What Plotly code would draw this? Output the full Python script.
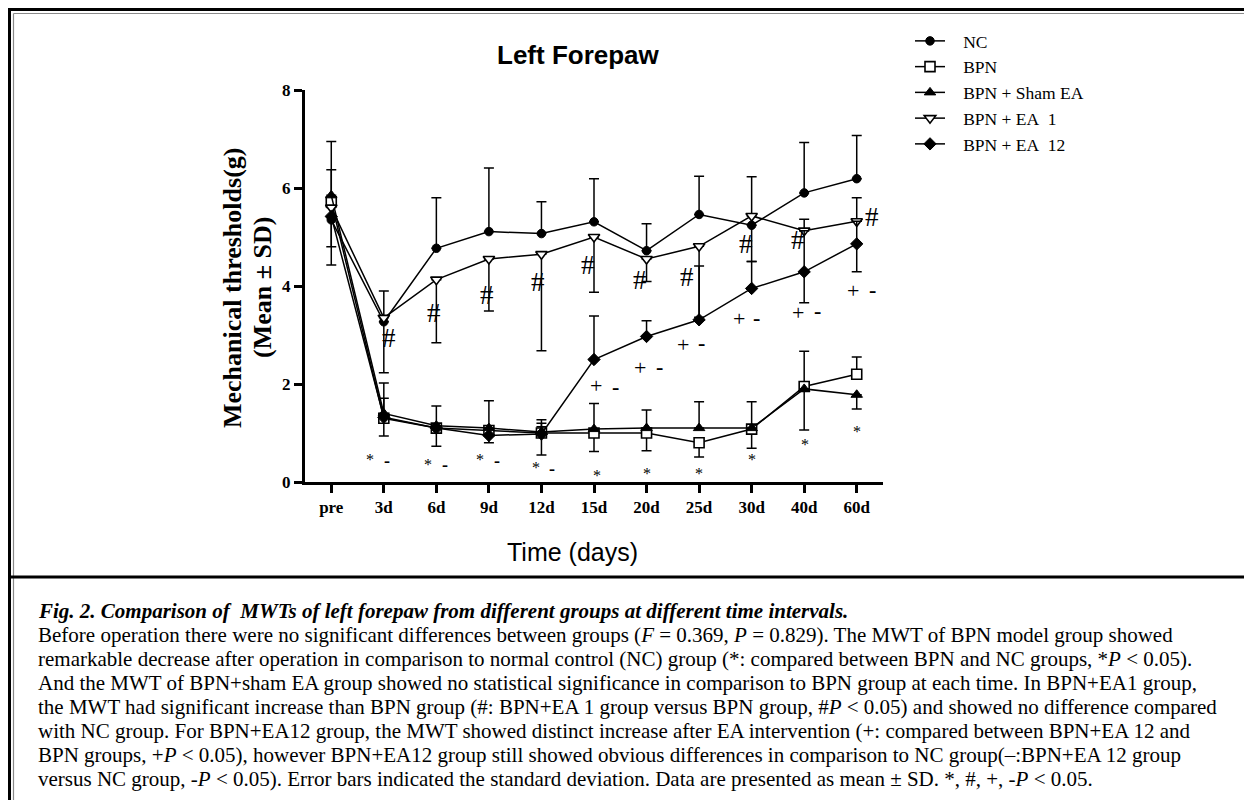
import plotly.graph_objects as go

# ---------------- data ----------------
time_labels = ["pre", "3d", "6d", "9d", "12d", "15d", "20d", "25d", "30d", "40d", "60d"]

nc_mean = [5.35, 3.27, 4.77, 5.11, 5.07, 5.31, 4.72, 5.46, 5.24, 5.90, 6.19]
nc_up = [1.02, 0.63, 1.03, 1.30, 0.65, 0.88, 0.55, 0.78, 0.99, 1.03, 0.88]
nc_dn = [0.92, 0, 0, 0, 0, 0, 0, 0, 0, 0, 0]

bpn_mean = [5.72, 1.30, 1.10, 1.05, 1.00, 1.00, 1.00, 0.80, 1.08, 1.95, 2.20]
bpn_up = [0, 0.41, 0, 0, 0.20, 0, 0, 0, 0.56, 0.72, 0.35]
bpn_dn = [0, 0.36, 0.37, 0.25, 0.45, 0.38, 0.36, 0.29, 0.39, 0.89, 0]

sham_mean = [5.85, 1.40, 1.15, 1.10, 1.02, 1.08, 1.10, 1.10, 1.10, 1.90, 1.78]
sham_up = [1.10, 0.62, 0.40, 0.56, 0.25, 0.52, 0.37, 0.54, 0, 0, 0]
sham_dn = [0, 0, 0, 0, 0, 0, 0, 0, 0, 0, 0.29]

ea1_mean = [5.60, 3.35, 4.13, 4.55, 4.65, 5.00, 4.55, 4.81, 5.43, 5.13, 5.32]
ea1_up = [0, 0, 0, 0, 0, 0, 0, 0, 0, 0.23, 0.48]
ea1_dn = [0.80, 1.12, 1.29, 1.06, 1.97, 1.13, 0.46, 1.45, 0.93, 0, 0]

ea12_mean = [5.42, 1.32, 1.10, 0.95, 0.98, 2.50, 2.97, 3.31, 3.95, 4.29, 4.86]
ea12_up = [0, 0, 0, 0, 0.15, 0.89, 0.32, 1.10, 0.55, 0.84, 0.46]
ea12_dn = [0, 0, 0, 0, 0, 0, 0, 0, 0, 0.63, 0.57]

series_names = ["NC", "BPN", "BPN + Sham EA", "BPN + EA&nbsp; 1", "BPN + EA&nbsp; 12"]

y_ticks = [0, 2, 4, 6, 8]

title_text = "Left Forepaw"
x_title = "Time (days)"
y_title_1 = "Mechanical thresholds(g)"
y_title_2 = "(Mean ± SD)"

caption_head = "Fig. 2. Comparison of&nbsp; MWTs of left forepaw from different groups at different time intervals."
caption_lines = [
    "Before operation there were no significant differences between groups (<i>F</i> = 0.369, <i>P</i> = 0.829). The MWT of BPN model group showed",
    "remarkable decrease after operation in comparison to normal control (NC) group (*: compared between BPN and NC groups, *<i>P</i> &lt; 0.05).",
    "And the MWT of BPN+sham EA group showed no statistical significance in comparison to BPN group at each time. In BPN+EA1 group,",
    "the MWT had significant increase than BPN group (#: BPN+EA 1 group versus BPN group, #<i>P</i> &lt; 0.05) and showed no difference compared",
    "with NC group. For BPN+EA12 group, the MWT showed distinct increase after EA intervention (+: compared between BPN+EA 12 and",
    "BPN groups, +<i>P</i> &lt; 0.05), however BPN+EA12 group still showed obvious differences in comparison to NC group(\u2013:BPN+EA 12 group",
    "versus NC group, -<i>P</i> &lt; 0.05). Error bars indicated the standard deviation. Data are presented as mean ± SD. *, #, +, -<i>P</i> &lt; 0.05.",
]

# significance marks (category position, value position)
star_pos = [(0.74, 0.45), (1.85, 0.36), (2.83, 0.45), (3.90, 0.29), (5.06, 0.14),
            (6.00, 0.18), (6.99, 0.18), (8.00, 0.45), (9.01, 0.77), (10.0, 1.03)]
star_dash_pos = [(1.06, 0.43), (2.17, 0.35), (3.15, 0.43), (4.21, 0.27)]
hash_pos = [(1.10, 2.94), (1.96, 3.45), (2.97, 3.82), (3.94, 4.09), (4.89, 4.43),
            (5.88, 4.12), (6.77, 4.19), (7.90, 4.86), (8.88, 4.94), (10.30, 5.40)]
plus_pos = [(5.04, 1.96), (5.87, 2.34), (6.69, 2.81), (7.76, 3.34), (8.88, 3.46), (9.93, 3.90)]
plus_dash_pos = [(5.40, 1.95), (6.24, 2.35), (7.05, 2.84), (8.10, 3.35), (9.26, 3.49), (10.30, 3.92)]

# ---------------- layout geometry (screen pixels) ----------------
OFF = 8                      # page body margin of the html page
SW, SH = 1252, 807           # screen size
W, H = SW - OFF, SH - OFF    # figure size
PL, PR, PT, PB = 305, 883, 90, 482   # plot box on screen


def px(x):
    return (x - PL) / (PR - PL)


def py(y):
    return (PB - y) / (PB - PT)


serif = "Liberation Serif, Times New Roman, serif"
sans = "Liberation Sans, Arial, sans-serif"

fig = go.Figure()

styles = [
    dict(symbol="circle", size=8.5, color="black", line=dict(color="black", width=1)),
    dict(symbol="square", size=10, color="white", line=dict(color="black", width=1.6)),
    dict(symbol="triangle-up", size=10, color="black", line=dict(color="black", width=1)),
    dict(symbol="triangle-down", size=10, color="white", line=dict(color="black", width=1.6)),
    dict(symbol="diamond", size=9.5, color="black", line=dict(color="black", width=1)),
]
means = [nc_mean, bpn_mean, sham_mean, ea1_mean, ea12_mean]
ups = [nc_up, bpn_up, sham_up, ea1_up, ea12_up]
dns = [nc_dn, bpn_dn, sham_dn, ea1_dn, ea12_dn]

for i, name in enumerate(series_names):
    fig.add_trace(go.Scatter(
        x=time_labels, y=means[i], name="&nbsp;&nbsp;&nbsp;" + name, mode="lines+markers",
        legendgroup="g%d" % i,
        line=dict(color="black", width=1.5),
        marker=styles[i],
        error_y=dict(type="data", symmetric=False, array=ups[i], arrayminus=dns[i],
                     color="black", thickness=1.5, width=5),
    ))

annotations = []


def mark(xx, yy, text, size, bold=False):
    annotations.append(dict(x=xx, y=yy, xref="x", yref="y",
                            text=("<b>%s</b>" % text) if bold else text,
                            showarrow=False, xanchor="center", yanchor="middle",
                            font=dict(family=serif, size=size, color="black")))


for (xx, yy) in star_pos:
    mark(xx, yy, "*", 16)
for (xx, yy) in star_dash_pos:
    mark(xx, yy, "-", 18, bold=True)
for (xx, yy) in hash_pos:
    mark(xx, yy, "#", 27)
for (xx, yy) in plus_pos:
    mark(xx, yy, "+", 22)
for (xx, yy) in plus_dash_pos:
    mark(xx, yy, "-", 22, bold=True)


def paper_text(sx, sy, text, family, size, angle=0, xanchor="center"):
    annotations.append(dict(x=px(sx), y=py(sy), xref="paper", yref="paper", text=text,
                            textangle=angle, showarrow=False, xanchor=xanchor, yanchor="middle",
                            font=dict(family=family, size=size, color="black")))


paper_text(232, 288, "<b>%s</b>" % y_title_1, serif, 26, angle=-90)
paper_text(262, 288, "<b>%s</b>" % y_title_2, serif, 26, angle=-90)
paper_text(572, 552, x_title, sans, 25)
paper_text(578, 55, "<b>%s</b>" % title_text, sans, 26)

# caption
CAP_X = 36
paper_text(CAP_X, 611, "<b><i>%s</i></b>" % caption_head, serif, 21, xanchor="left")
for k, line in enumerate(caption_lines):
    paper_text(CAP_X, 635 + 24 * k, line, serif, 21, xanchor="left")


def hline(x0, x1, y, color, width):
    return dict(type="line", xref="paper", yref="paper", x0=px(x0), x1=px(x1), y0=py(y), y1=py(y),
                line=dict(color=color, width=width))


def vline(x, y0, y1, color, width):
    return dict(type="line", xref="paper", yref="paper", x0=px(x), x1=px(x), y0=py(y0), y1=py(y1),
                line=dict(color=color, width=width))


shapes = [
    vline(9.5, 8, 800, "black", 3),
    hline(8, SW, 9.5, "black", 3),
    vline(13.5, 13.5, 800, "#8a8a8a", 1.2),
    hline(13.5, SW, 13.5, "#8a8a8a", 1.2),
    hline(8, SW, 577, "black", 3),
]

fig.update_layout(
    width=W, height=H,
    margin=dict(l=PL - OFF, r=W - (PR - OFF), t=PT - OFF, b=H - (PB - OFF), autoexpand=False),
    paper_bgcolor="white", plot_bgcolor="white",
    showlegend=True,
    legend=dict(x=px(910), y=py(23), xanchor="left", yanchor="top",
                font=dict(family=serif, size=17.5, color="black"),
                bgcolor="rgba(0,0,0,0)", traceorder="grouped", tracegroupgap=0),
    annotations=annotations,
    shapes=shapes,
    xaxis=dict(type="category", range=[-0.5, 10.5], showgrid=False, zeroline=False,
               showline=True, linecolor="black", linewidth=3,
               ticks="outside", ticklen=8, tickwidth=2.5, tickcolor="black",
               tickfont=dict(family=serif, size=17, color="black"),
               tickvals=time_labels, ticktext=["<b>%s</b>" % t for t in time_labels]),
    yaxis=dict(range=[0, 8], showgrid=False, zeroline=False,
               showline=True, linecolor="black", linewidth=3,
               ticks="outside", ticklen=8, tickwidth=2.5, tickcolor="black",
               tickvals=y_ticks, ticktext=["<b>%d</b>" % v for v in y_ticks],
               tickfont=dict(family=serif, size=17, color="black")),
)

fig.write_html("out.html")
